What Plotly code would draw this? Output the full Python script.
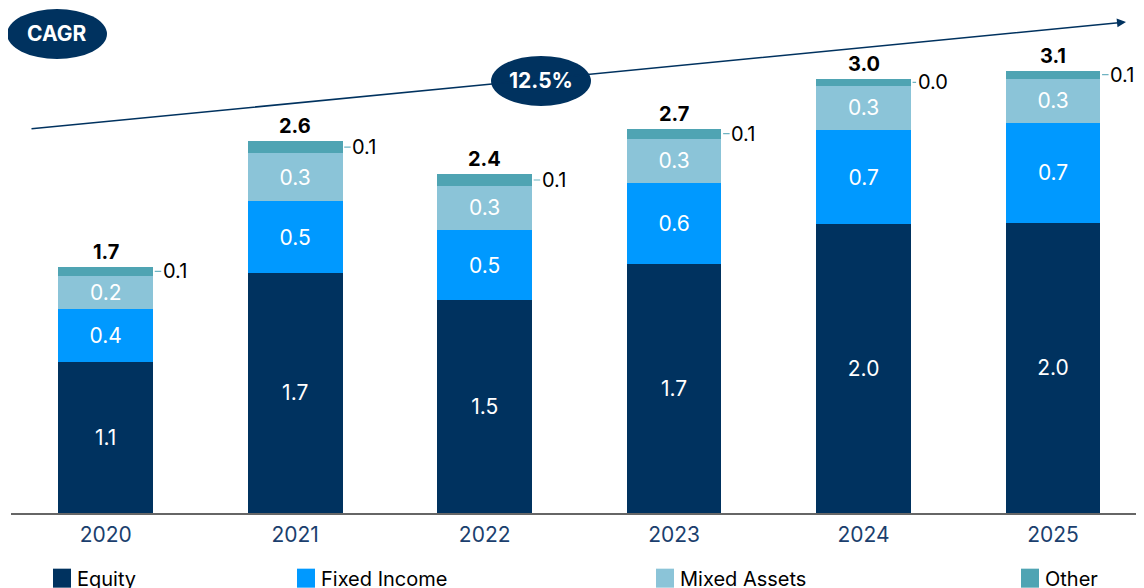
import plotly.graph_objects as go

years = ['2020', '2021', '2022', '2023', '2024', '2025']
equity = [1.06, 1.68, 1.49, 1.74, 2.02, 2.03]
fixed_income = [0.37, 0.50, 0.49, 0.57, 0.66, 0.70]
mixed_assets = [0.23, 0.34, 0.31, 0.31, 0.31, 0.31]
other = [0.06, 0.08, 0.08, 0.07, 0.047, 0.056]
cagr = '12.5%'

series = [
    ('Equity', equity, '#00325f'),
    ('Fixed Income', fixed_income, '#0099ff'),
    ('Mixed Assets', mixed_assets, '#8bc4d8'),
    ('Other', other, '#4fa4b3'),
]
totals = [sum(v) for v in zip(equity, fixed_income, mixed_assets, other)]

FONT = 'Inter'
NAVY = '#00325f'

# the page body adds an 8px margin, so the figure is a bit smaller
OFF = 8
W_FIG, H_FIG = 1144 - OFF, 588 - OFF
# plot area in page pixels
L, R, T, B = 11, 1144, 10, 513.3
W, H = R - L, B - T
PX_PER_UNIT = 143


def px(x):
    return (x - L) / W


def py(y):
    return (B - y) / H


fig = go.Figure()
for name, vals, color in series:
    fig.add_trace(go.Bar(
        x=years, y=vals, name=name,
        marker=dict(color=color, line=dict(width=0)),
        texttemplate='%{y:.1f}' if name != 'Other' else '',
        textposition='inside', insidetextanchor='middle',
        textangle=0, constraintext='none',
        textfont=dict(family=FONT, size=21, color='white'),
        showlegend=False,
    ))

annotations = []
# totals on top
for i, t in enumerate(totals):
    annotations.append(dict(
        x=i, y=t, xref='x', yref='y', text=f'<b>{t:.1f}</b>',
        showarrow=False, xanchor='center', yanchor='bottom', yshift=1,
        font=dict(family=FONT, size=20, color='black'),
    ))
# "Other" callouts
bottoms = [e + f + m for e, f, m in zip(equity, fixed_income, mixed_assets)]
for i, (b, o) in enumerate(zip(bottoms, other)):
    annotations.append(dict(
        x=i, y=b + o / 2, xref='x', yref='y', text=f'{o:.1f}',
        showarrow=True, arrowhead=0, arrowwidth=1.2, arrowcolor='#6fb3c2',
        ax=20, ay=0, xshift=49, standoff=0,
        font=dict(family=FONT, size=20, color='black'),
    ))

# CAGR trend arrow (tail offset in pixels)
annotations.append(dict(
    x=px(1126), y=py(22), xref='paper', yref='paper',
    ax=30 - 1126, ay=129 - 22,
    showarrow=True, arrowhead=2, arrowsize=1.2, arrowwidth=1.5,
    arrowcolor=NAVY, text='',
))

shapes = []
# ovals
for cx, cy, label in [(57, 34, 'CAGR'), (541, 81, cagr)]:
    shapes.append(dict(
        type='circle', xref='paper', yref='paper',
        x0=px(cx - 50), x1=px(cx + 50), y0=py(cy + 25), y1=py(cy - 25),
        fillcolor=NAVY, line=dict(width=0), layer='above',
    ))
    annotations.append(dict(
        x=px(cx), y=py(cy), xref='paper', yref='paper', text=f'<b>{label}</b>',
        showarrow=False, xanchor='center', yanchor='middle',
        font=dict(family=FONT, size=21, color='white'),
    ))

# legend
legend_x = [53, 297, 656, 1021]
for (name, vals, color), lx in zip(series, legend_x):
    shapes.append(dict(
        type='rect', xref='paper', yref='paper',
        x0=px(lx), x1=px(lx + 18), y0=py(588), y1=py(569),
        fillcolor=color, line=dict(width=0),
    ))
    annotations.append(dict(
        x=px(lx + 22), y=py(579), xref='paper', yref='paper', text=name,
        showarrow=False, xanchor='left', yanchor='middle',
        font=dict(family=FONT, size=20, color='black'),
    ))

fig.update_layout(
    width=W_FIG, height=H_FIG,
    barmode='stack', bargap=0.5,
    plot_bgcolor='white', paper_bgcolor='white',
    margin=dict(l=L - OFF, r=1144 - R, t=T - OFF, b=588 - B),
    xaxis=dict(
        type='category',
        range=[-0.5, 5.48], showline=True, linecolor='#666666', linewidth=1.5,
        showgrid=False, ticks='', ticklabelstandoff=2,
        tickfont=dict(family=FONT, size=21, color='#1b3f6e'),
    ),
    yaxis=dict(range=[0, H / PX_PER_UNIT], visible=False, showgrid=False),
    shapes=shapes,
    annotations=annotations,
    font=dict(family=FONT),
)

fig.write_html('out.html', post_script="document.body.style.overflow = 'hidden';")
